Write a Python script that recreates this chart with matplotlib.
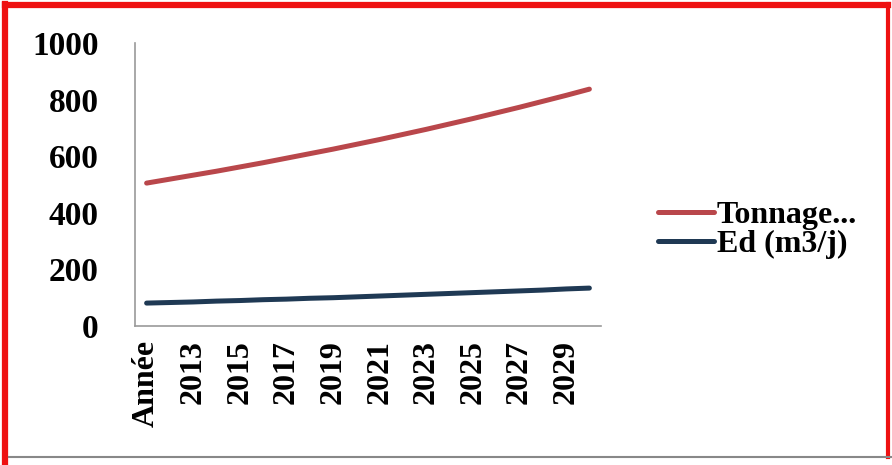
import matplotlib.pyplot as plt
from matplotlib.lines import Line2D

# données
categories = ['Année'] + [str(a) for a in range(2012, 2031)]
tonnage = [505, 519, 533, 547, 562, 577, 593, 609, 625, 642,
           659, 677, 695, 714, 733, 753, 773, 794, 815, 837]
ed = [81, 83, 85, 88, 90, 93, 95, 98, 100, 103,
      106, 109, 112, 115, 118, 121, 124, 127, 131, 134]
labels = ['Tonnage...', 'Ed (m3/j)']

plt.rcParams['font.family'] = ['Liberation Serif', 'DejaVu Serif']
plt.rcParams['font.weight'] = 'bold'

fig = plt.figure(figsize=(8.92, 4.65), dpi=100)
ax = fig.add_axes([0.1513, 0.2989, 0.5225, 0.6086])

x = range(len(categories))
ax.plot(x, tonnage, color='#B9474B', lw=3.6, solid_capstyle='round', label=labels[0])
ax.plot(x, ed, color='#1F3954', lw=3.6, solid_capstyle='round', label=labels[1])

ax.set_xlim(-0.5, len(categories) - 0.5)
ax.set_ylim(0, 1000)
ax.set_yticks(range(0, 1001, 200))
ax.set_xticks(list(x)[::2])
ax.set_xticklabels(categories[::2], rotation=90, va='top', ha='center')
ax.tick_params(axis='y', length=0, pad=26, labelsize=24)
ax.tick_params(axis='x', length=0, pad=10, labelsize=23)
for s in ['top', 'right']:
    ax.spines[s].set_visible(False)
for s in ['left', 'bottom']:
    ax.spines[s].set_color('#9a9a9a')
    ax.spines[s].set_linewidth(1.2)

ax.legend(loc='center left', bbox_to_anchor=(1.095, 0.34), frameon=False,
          fontsize=23, handlelength=1.75, handletextpad=0.08, labelspacing=0.0,
          borderaxespad=0)

# cadre rouge et ligne grise du bas
fig.add_artist(Line2D([0.006, 0.006], [0, 0.992], color='#ee1111', lw=4.5, transform=fig.transFigure))
fig.add_artist(Line2D([0.006, 0.996], [0.99, 0.99], color='#ee1111', lw=4.5, transform=fig.transFigure))
fig.add_artist(Line2D([0.996, 0.996], [0.017, 0.992], color='#ee1111', lw=3, transform=fig.transFigure))
fig.add_artist(Line2D([0.01, 1], [0.017, 0.017], color='#888888', lw=1.5, transform=fig.transFigure))

fig.savefig('out.png', dpi=100)
